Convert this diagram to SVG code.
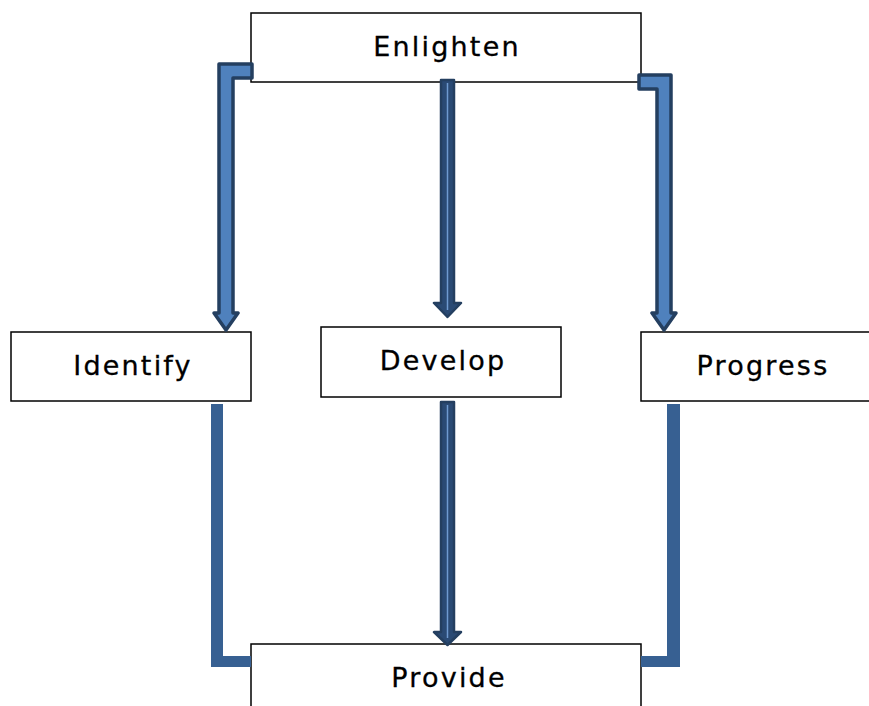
<svg xmlns="http://www.w3.org/2000/svg" width="869" height="706" viewBox="0 0 869 706">
  <style>
    .box { fill: #ffffff; stroke: #000000; stroke-width: 1.5; }
    .label { font-family: "DejaVu Sans", Verdana, sans-serif; font-size: 27px; letter-spacing: 2.2px; fill: #000000; stroke: #000000; stroke-width: 0.3; text-anchor: middle; }
    .arrow { fill: #4F81BD; stroke: #243F60; stroke-width: 3.5; stroke-linejoin: round; }
    .arrow-dark { fill: #2A4A74; stroke: #243F60; stroke-width: 2.5; stroke-linejoin: round; }
    .stripe { stroke: #6F9AD0; stroke-width: 1.5; fill: none; }
    .link { fill: #376092; }
  </style>

  <rect width="869" height="706" fill="#ffffff"/>

  <g id="enlighten">
    <rect class="box" x="251" y="13" width="390" height="69"/>
    <text class="label" x="447" y="56">Enlighten</text>
  </g>
  <g id="identify">
    <rect class="box" x="11" y="332" width="240" height="69"/>
    <text class="label" x="133" y="375">Identify</text>
  </g>
  <g id="develop">
    <rect class="box" x="321" y="327" width="240" height="70"/>
    <text class="label" x="443" y="370">Develop</text>
  </g>
  <g id="progress">
    <rect class="box" x="641" y="332" width="240" height="69"/>
    <text class="label" x="763" y="375">Progress</text>
  </g>
  <g id="provide">
    <rect class="box" x="251" y="644" width="390" height="80"/>
    <text class="label" x="449" y="687">Provide</text>
  </g>

  <g id="connectors">
    <!-- elbow arrows from Enlighten -->
    <path class="arrow" d="M252,64 L219,64 L219,313 L214,313 L226,330 L238,313 L233,313 L233,78 L252,78 Z"/>
    <path class="arrow" d="M639,75 L671,75 L671,313 L676,313 L664,330 L652,313 L657,313 L657,89 L639,89 Z"/>
    <!-- straight arrows down the middle -->
    <path class="arrow-dark" d="M441,80 L454,80 L454,303 L461,303 L447.5,317 L434,303 L441,303 Z"/>
    <line class="stripe" x1="447.5" y1="83" x2="447.5" y2="310"/>
    <path class="arrow-dark" d="M441,402 L454,402 L454,632 L461,632 L447.5,645 L434,632 L441,632 Z"/>
    <line class="stripe" x1="447.5" y1="405" x2="447.5" y2="638"/>
    <!-- plain elbow links into Provide -->
    <path class="link" d="M211,404 L223,404 L223,656 L251,656 L251,667 L211,667 Z"/>
    <path class="link" d="M667,404 L680,404 L680,667 L641,667 L641,656 L667,656 Z"/>
  </g>
</svg>
